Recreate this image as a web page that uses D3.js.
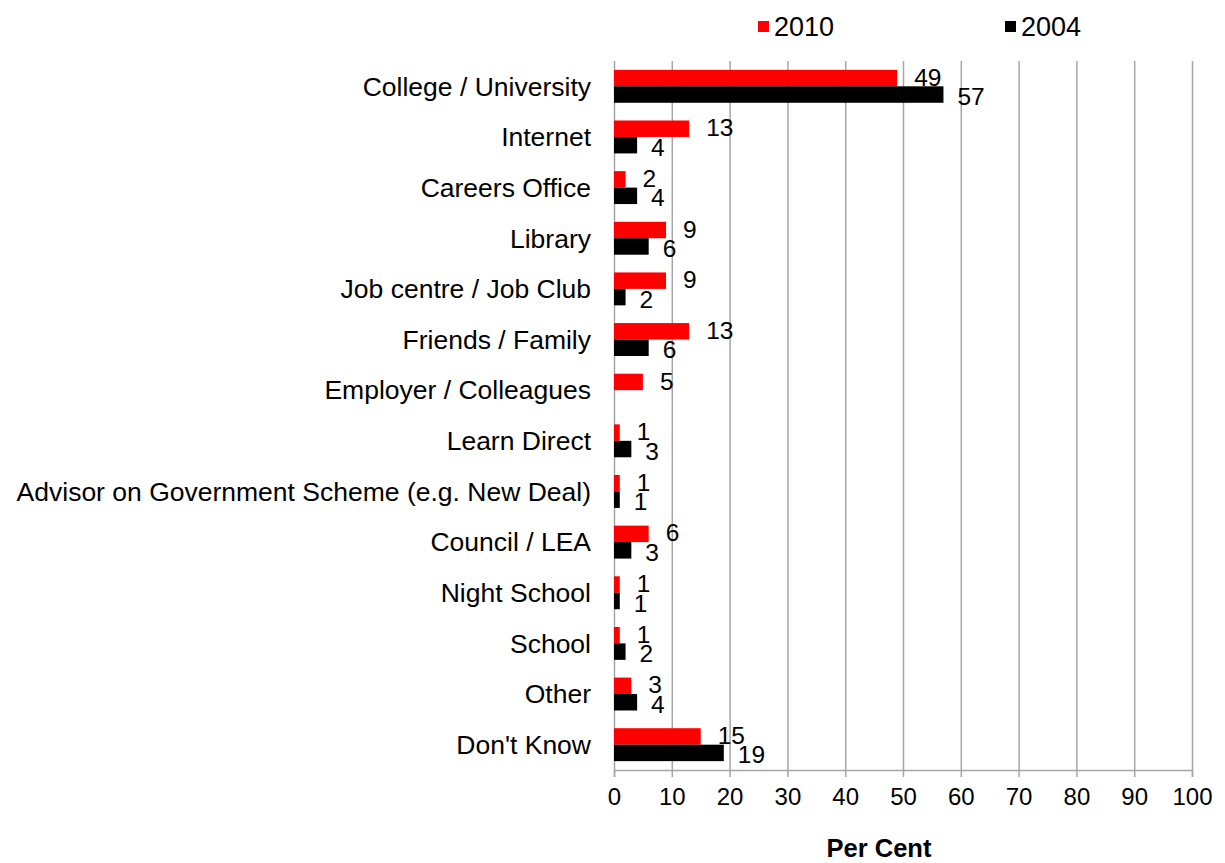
<!DOCTYPE html>
<html>
<head>
<meta charset="utf-8">
<script src="https://cdn.jsdelivr.net/npm/d3@7"></script>
<style>
body{margin:0;background:#fff}
text{font-family:"Liberation Sans",Arial,sans-serif;fill:#000}
</style>
</head>
<body>
<div id="chart"></div>
<script>
var categories=["College / University","Internet","Careers Office","Library","Job centre / Job Club","Friends / Family","Employer / Colleagues","Learn Direct","Advisor on Government Scheme (e.g. New Deal)","Council / LEA","Night School","School","Other","Don't Know"]
var series=["2010","2004"]
var values2010=[49,13,2,9,9,13,5,1,1,6,1,1,3,15]
var values2004=[57,4,4,6,2,6,null,3,1,3,1,2,4,19]
var xTicks=[0,10,20,30,40,50,60,70,80,90,100]
var colors={"2010":"#ff0000","2004":"#000000"}

var W=1225,H=863
var svg=d3.select('#chart').append('svg')
    .attr('width',W)
    .attr('height',H)

var x=d3.scaleLinear().domain([0,100]).range([614,1192])
var y=d3.scaleBand().domain(categories).range([61,770]).paddingInner(0.35).paddingOuter(0.175)
var yIn=d3.scaleBand().domain(series).range([0,y.bandwidth()])

// gridlines
svg.append('g').selectAll('line')
    .data(xTicks)
    .enter().append('line')
    .attr('x1',function(d){return x(d)+0.5})
    .attr('x2',function(d){return x(d)+0.5})
    .attr('y1',61)
    .attr('y2',770)
    .attr('stroke','#a6a6a6')
    .attr('stroke-width',1.5)

// bottom axis
var xAxis=d3.axisBottom(x).tickValues(xTicks).tickSize(7).tickPadding(11)
var ax=svg.append('g').attr('transform','translate(0,770)').call(xAxis)
ax.select('.domain').attr('stroke','#a6a6a6').attr('stroke-width',1.5)
ax.selectAll('.tick line').attr('stroke','#a6a6a6').attr('stroke-width',1.5)
ax.selectAll('.tick text').attr('font-size',24).attr('fill','#000')
    .attr('font-family','"Liberation Sans",Arial,sans-serif')

// category labels
svg.append('g').selectAll('text')
    .data(categories)
    .enter().append('text')
    .attr('x',591)
    .attr('y',function(d){return y(d)+y.bandwidth()/2})
    .attr('dy','0.35em')
    .attr('text-anchor','end')
    .attr('font-size',26.5)
    .text(function(d){return d})

var rows=categories.map(function(c,i){
    return [{cat:c,s:"2010",v:values2010[i]},{cat:c,s:"2004",v:values2004[i]}]
})
var flat=[].concat.apply([],rows).filter(function(d){return d.v!=null})

svg.append('g').selectAll('rect')
    .data(flat)
    .enter().append('rect')
    .attr('x',x(0))
    .attr('y',function(d){return y(d.cat)+yIn(d.s)})
    .attr('width',function(d){return x(d.v)-x(0)})
    .attr('height',yIn.bandwidth())
    .attr('fill',function(d){return colors[d.s]})

// value labels, 2010 nudged up and 2004 down a little
svg.append('g').selectAll('text')
    .data(flat)
    .enter().append('text')
    .attr('x',function(d){return x(d.v)+(d.s=="2010"?17:14)})
    .attr('y',function(d){return y(d.cat)+yIn(d.s)+yIn.bandwidth()/2+(d.s=="2010"?-1:2)})
    .attr('dy','0.35em')
    .attr('font-size',24.5)
    .text(function(d){return d.v})

// axis title
svg.append('text')
    .attr('x',879)
    .attr('y',857)
    .attr('text-anchor','middle')
    .attr('font-size',25.5)
    .attr('font-weight','bold')
    .text('Per Cent')

// legend
var leg=svg.append('g')
var legX={"2010":758,"2004":1005}
series.forEach(function(s){
    leg.append('rect')
	.attr('x',legX[s]).attr('y',21)
	.attr('width',11).attr('height',11)
	.attr('fill',colors[s])
    leg.append('text')
	.attr('x',legX[s]+16).attr('y',27)
	.attr('dy','0.35em')
	.attr('font-size',27)
	.text(s)
})
</script>
</body>
</html>
